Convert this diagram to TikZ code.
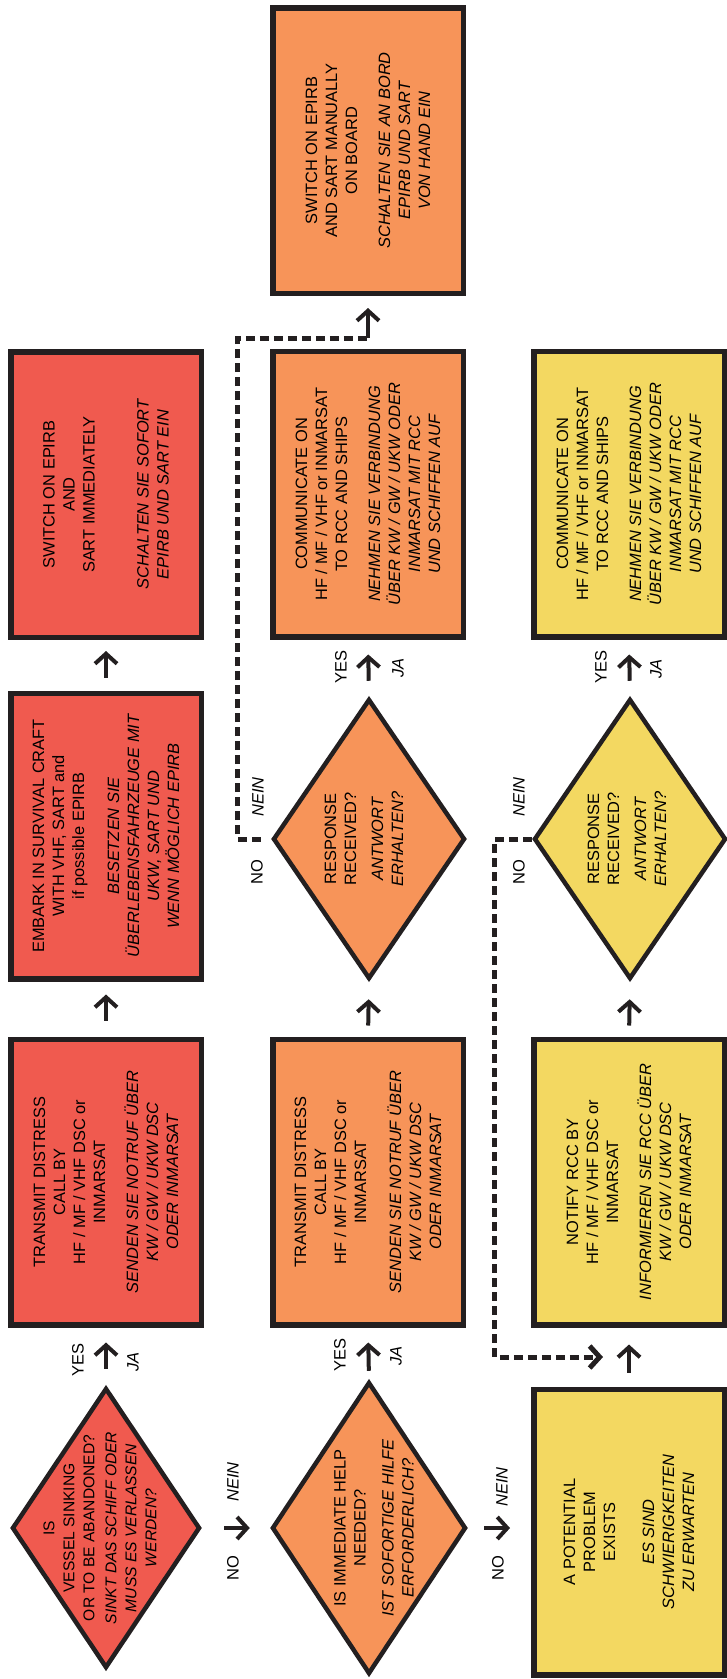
\documentclass[tikz,border=0pt]{standalone}
\usepackage{fontspec}
\setmainfont{Liberation Sans}
\usetikzlibrary{shapes.geometric, arrows.meta, calc}
\definecolor{cred}{HTML}{F05A4F}
\definecolor{corange}{HTML}{F79459}
\definecolor{cyellow}{HTML}{F3D861}
\definecolor{cline}{HTML}{231F20}
\begin{document}
\begin{tikzpicture}[x=1pt,y=-1pt,
 box/.style={draw=cline, line width=5.5pt, rectangle, rotate=90, minimum width=285.5pt, minimum height=190.5pt, inner sep=0pt, align=center, font=\fontsize{16.4}{20}\selectfont},
 dia/.style={draw=cline, line width=4.5pt, diamond, inner sep=0pt},
 dtext/.style={rotate=90, align=center, inner sep=0pt, font=\fontsize{16.4}{20}\selectfont},
 lab/.style={rotate=90, inner sep=0pt, font=\fontsize{16.5}{19}\selectfont},
 ilab/.style={rotate=90, inner sep=0pt, font=\fontsize{16.5}{19}\selectfont\itshape},
 arr/.style={draw=cline, line width=4pt, -{Straight Barb[length=10pt,width=22pt]}},
 dashline/.style={draw=cline, line width=5pt, dash pattern=on 9pt off 5pt},
]
\useasboundingbox (0,0) rectangle (727,1679);

% ---- row 1 (red)
\node[dia, fill=cred, minimum width=188pt, minimum height=280pt] (d1) at (106,1528) {};
\node[dtext, font=\fontsize{15.6}{20}\selectfont] (t1) at (100,1528) {IS\\VESSEL SINKING\\OR TO BE ABANDONED?\\[2pt]\itshape SINKT DAS SCHIFF ODER\\\itshape MUSS ES VERLASSEN\\\itshape WERDEN?};
\node[box, fill=cred] (b1) at (106,1182) {TRANSMIT DISTRESS\\CALL BY\\HF / MF / VHF DSC or\\INMARSAT\\[13pt]\itshape SENDEN SIE NOTRUF ÜBER\\\itshape KW / GW / UKW DSC\\\itshape ODER INMARSAT};
\node[box, fill=cred] (b2) at (106,836) {EMBARK IN SURVIVAL CRAFT\\WITH VHF, SART and\\if possible EPIRB\\[15pt]\itshape BESETZEN SIE\\\itshape ÜBERLEBENSFAHRZEUGE MIT\\\itshape UKW, SART UND\\\itshape WENN MÖGLICH EPIRB};
\node[box, fill=cred] (b3) at (106,494.5) {SWITCH ON EPIRB\\AND\\SART IMMEDIATELY\\[34pt]\itshape SCHALTEN SIE SOFORT\\\itshape EPIRB UND SART EIN};

% ---- row 2 (orange)
\node[dia, fill=corange, minimum width=194pt, minimum height=292pt] (d2) at (369,1528) {};
\node[dtext] (t2) at (374,1528) {IS IMMEDIATE HELP\\NEEDED?\\[8pt]\itshape IST SOFORTIGE HILFE\\\itshape ERFORDERLICH?};
\node[box, fill=corange] (b4) at (368,1182) {TRANSMIT DISTRESS\\CALL BY\\HF / MF / VHF DSC or\\INMARSAT\\[15pt]\itshape SENDEN SIE NOTRUF ÜBER\\\itshape KW / GW / UKW DSC\\\itshape ODER INMARSAT};
\node[dia, fill=corange, minimum width=192pt, minimum height=280pt] (d3) at (369,839) {};
\node[dtext] (t3) at (364,839) {RESPONSE\\RECEIVED?\\[7pt]\itshape ANTWORT\\\itshape ERHALTEN?};
\node[box, fill=corange] (b5) at (368,494) {COMMUNICATE ON\\HF / MF / VHF or INMARSAT\\TO RCC AND SHIPS\\[13pt]\itshape NEHMEN SIE VERBINDUNG\\\itshape ÜBER KW / GW / UKW ODER\\\itshape INMARSAT MIT RCC\\\itshape UND SCHIFFEN AUF};
\node[box, fill=corange] (b6) at (368,150.5) {SWITCH ON EPIRB\\AND SART MANUALLY\\ON BOARD\\[13pt]\itshape SCHALTEN SIE AN BORD\\\itshape EPIRB UND SART\\\itshape VON HAND EIN};

% ---- row 3 (yellow)
\node[box, fill=cyellow] (b7) at (629,1532) {A POTENTIAL\\PROBLEM\\EXISTS\\[19pt]\itshape ES SIND\\\itshape SCHWIERIGKEITEN\\\itshape ZU ERWARTEN};
\node[box, fill=cyellow] (b8) at (629,1182) {NOTIFY RCC BY\\HF / MF / VHF DSC or\\INMARSAT\\[13pt]\itshape INFORMIEREN SIE RCC ÜBER\\\itshape KW / GW / UKW DSC\\\itshape ODER INMARSAT};
\node[dia, fill=cyellow, minimum width=192pt, minimum height=280pt] (d4) at (630,839) {};
\node[dtext] (t4) at (627,839) {RESPONSE\\RECEIVED?\\[7pt]\itshape ANTWORT\\\itshape ERHALTEN?};
\node[box, fill=cyellow] (b9) at (629,494) {COMMUNICATE ON\\HF / MF / VHF or INMARSAT\\TO RCC AND SHIPS\\[13pt]\itshape NEHMEN SIE VERBINDUNG\\\itshape ÜBER KW / GW / UKW ODER\\\itshape INMARSAT MIT RCC\\\itshape UND SCHIFFEN AUF};

% ---- solid connectors
\draw[arr, shorten <=17pt, shorten >=15pt] (d1.north) -- (b1.west);
\draw[arr, shorten <=16pt, shorten >=13pt] (b1.east) -- (b2.west);
\draw[arr, shorten <=13pt, shorten >=11pt] (b2.east) -- (b3.west);
\draw[arr, shorten <=22pt, shorten >=20pt] (d1.east) -- (d2.west);
\draw[arr, shorten <=9pt, shorten >=15pt] (d2.north) -- (b4.west);
\draw[arr, shorten <=11pt, shorten >=18pt] (b4.east) -- (d3.south);
\draw[arr, shorten <=16pt, shorten >=15pt] (d3.north) -- (b5.west);
\draw[arr, shorten <=16pt, shorten >=21pt] (d2.east) -- (d2.east -| b7.north);
\draw[arr, shorten <=14pt, shorten >=17pt] (b7.east) -- (b8.west);
\draw[arr, shorten <=11pt, shorten >=18pt] (b8.east) -- (d4.south);
\draw[arr, shorten <=16pt, shorten >=15pt] (d4.north) -- (b9.west);

% ---- dashed connectors
\coordinate (c1) at (368,338);
\draw[dashline, shorten <=10pt] (d3.west) -- ++(-33,0) |- (c1);
\draw[arr, shorten >=12pt] (c1) -- (b6.west);
\coordinate (j) at ($(b7.east)!0.5!(b8.west)$);
\draw[dashline, -{Straight Barb[length=10pt,width=22pt]}, shorten >=26pt] (d4.west) -- ++(-37,0) |- (j);

% ---- labels
\node[lab]  (y1) at (78,1360) {YES};
\node[ilab] (j1) at (133,1362) {JA};
\node[lab]  (n1) at (233,1568) {NO};
\node[ilab] (e1) at (233,1482) {NEIN};
\node[lab]  (y2) at (340,1355) {YES};
\node[ilab] (j2) at (396,1356) {JA};
\node[lab]  (n2) at (498,1568) {NO};
\node[ilab] (e2) at (502,1487) {NEIN};
\node[lab]  (y3) at (341,667) {YES};
\node[ilab] (j3) at (398,668) {JA};
\node[lab]  (n3) at (257,872) {NO};
\node[ilab] (e3) at (258,797) {NEIN};
\node[lab]  (y4) at (601,667) {YES};
\node[ilab] (j4) at (656,669) {JA};
\node[lab]  (n4) at (519,872) {NO};
\node[ilab] (e4) at (519,797) {NEIN};
\end{tikzpicture}
\end{document}
